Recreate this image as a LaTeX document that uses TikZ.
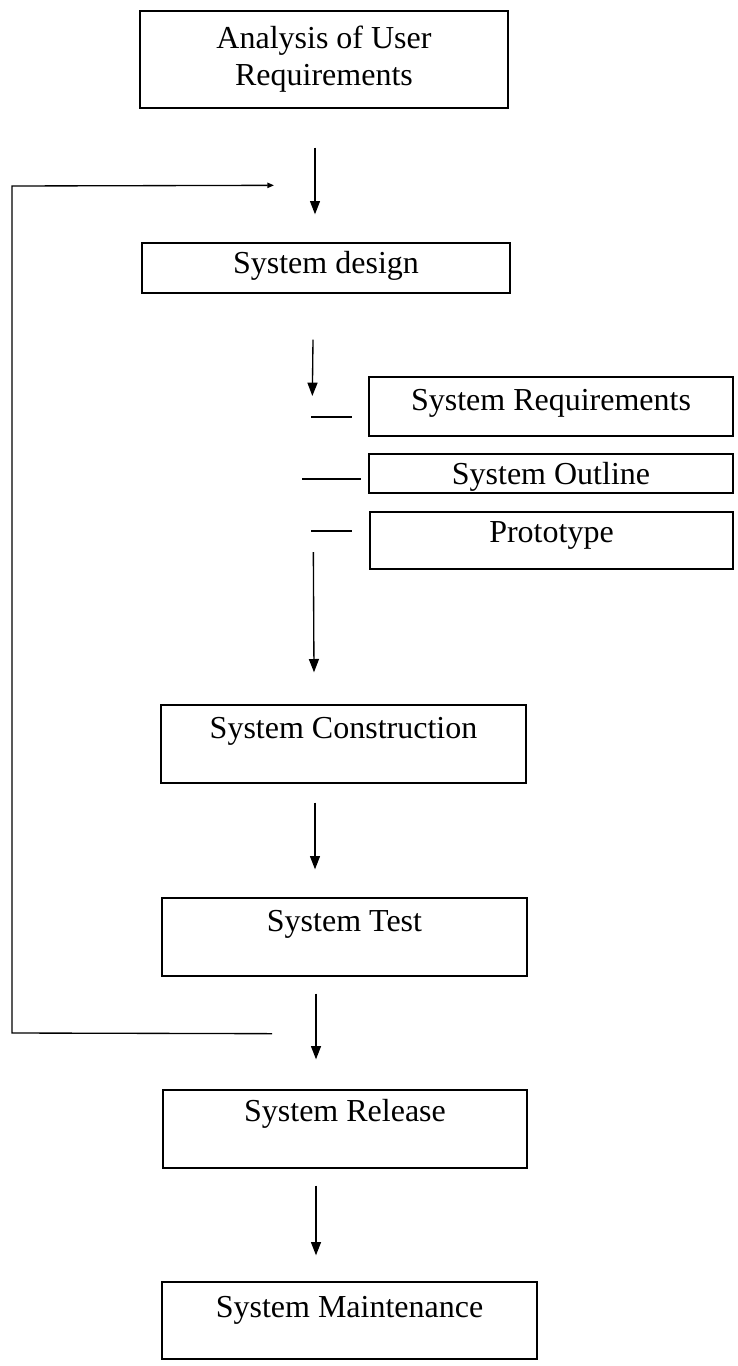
\documentclass[tikz,border=0pt]{standalone}
\usepackage{fontspec}
\setmainfont{Liberation Serif}
\usetikzlibrary{arrows.meta,calc}
\begin{document}
\begin{tikzpicture}[x=0.75pt,y=-0.75pt,
  bx/.style 2 args={draw, line width=1pt, minimum width=#1*0.75pt, minimum height=#2*0.75pt, inner sep=0pt},
  lbl/.style={font=\fontsize{24}{27.75}\selectfont, inner sep=0pt, align=center},
  arr/.style={line width=1pt, -{Triangle[length=10pt,width=7.5pt]}},
  fbarr/.style={line width=1pt, -{Triangle[length=5pt,width=4pt]}},
  ln/.style={line width=1pt}]
\useasboundingbox (0,0) rectangle (738,1366);
% boxes
\node[bx={368}{97}] (an) at (324,59.5) {};
\node[bx={368}{50}] (sd) at (326,268) {};
\node[bx={364}{59}] (req) at (551,406.5) {};
\node[bx={364}{39}] (out) at (551,473.5) {};
\node[bx={363}{57}] (pro) at (551.5,540.5) {};
\node[bx={365}{78}] (con) at (343.5,744) {};
\node[bx={365}{78}] (tst) at (344.5,937) {};
\node[bx={364}{78}] (rel) at (345,1129) {};
\node[bx={375}{77}] (mnt) at (349.5,1320.5) {};
% texts
\node[lbl] (t-an) at (324,59) {Analysis of User\\Requirements};
\node[lbl] (t-sd) at (326,266) {System design};
\node[lbl] (t-req) at (551,403) {System Requirements};
\node[lbl] (t-out) at (551,477) {System Outline};
\node[lbl] (t-pro) at (551.5,535) {Prototype};
\node[lbl] (t-con) at (343.5,731) {System Construction};
\node[lbl] (t-tst) at (344.5,924) {System Test};
\node[lbl] (t-rel) at (345,1114) {System Release};
\node[lbl] (t-mnt) at (349.5,1310) {System Maintenance};
% arrows
\draw[arr] ($(an.south)+(-9,39)$) -- ($(sd.north)+(-11,-28)$);
\draw[arr] ($(sd.south)+(-13,46)$) -- ($(req.west)+(-56,-10.5)$);
\draw[ln] ($(req.west)+(-57,10.5)$) -- ($(req.west)+(-16,10.5)$);
\draw[ln] ($(out.west)+(-66,5.5)$) -- ($(out.west)+(-7,5.5)$);
\draw[ln] ($(pro.west)+(-58,-9.5)$) -- ($(pro.west)+(-17,-9.5)$);
\draw[arr] ($(pro.west)+(-56,11.5)$) -- ($(con.north)+(-29.5,-32)$);
\draw[arr] ($(con.south)+(-28.5,19)$) -- ($(tst.north)+(-29.5,-28)$);
\draw[arr] ($(tst.south)+(-28.5,17)$) -- ($(rel.north)+(-29,-30)$);
\draw[arr] ($(rel.south)+(-29,17)$) -- ($(mnt.north)+(-33.5,-26)$);
% feedback loop
\coordinate (fb1) at (12,1033);
\coordinate (fb2) at (12,186);
\draw[fbarr] ($(tst.south)+(-72.5,57)$) -- (fb1) -- (fb2) -- ($(sd.north)+(-52,-57)$);
\end{tikzpicture}
\end{document}
